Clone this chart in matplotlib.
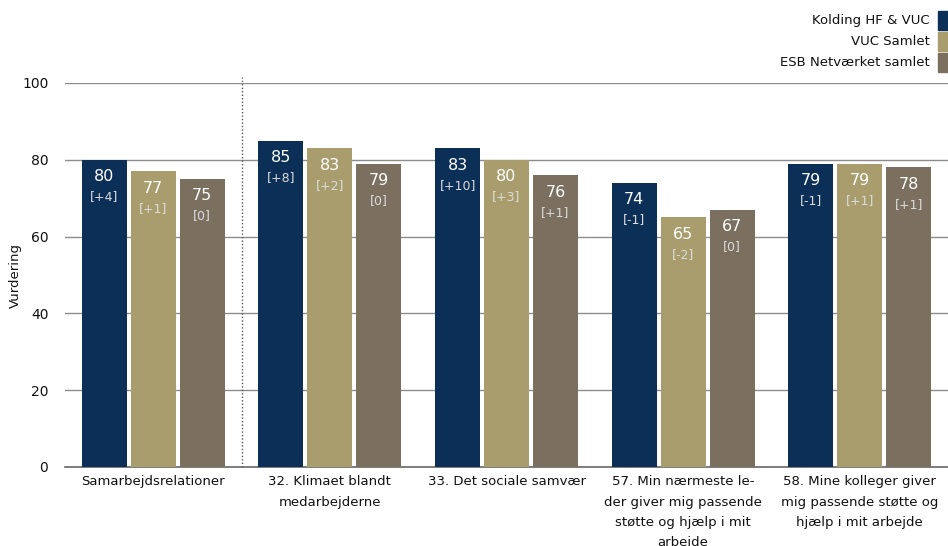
import matplotlib
matplotlib.use("Agg")
import matplotlib.pyplot as plt
import numpy as np
from matplotlib.patches import Rectangle

plt.rcParams["font.family"] = ["DejaVu Sans"]

categories = [
    "Samarbejdsrelationer",
    "32. Klimaet blandt\nmedarbejderne",
    "33. Det sociale samvær",
    "57. Min nærmeste le-\nder giver mig passende\nstøtte og hjælp i mit\narbejde",
    "58. Mine kolleger giver\nmig passende støtte og\nhjælp i mit arbejde",
]
series = ["Kolding HF & VUC", "VUC Samlet", "ESB Netværket samlet"]
kolding = [80, 85, 83, 74, 79]
vuc = [77, 83, 80, 65, 79]
esb = [75, 79, 76, 67, 78]
kolding_diff = ["[+4]", "[+8]", "[+10]", "[-1]", "[-1]"]
vuc_diff = ["[+1]", "[+2]", "[+3]", "[-2]", "[+1]"]
esb_diff = ["[0]", "[0]", "[+1]", "[0]", "[+1]"]
yticks = [0, 20, 40, 60, 80, 100]

colors = ["#0C2F57", "#A99D6D", "#7B6F5F"]

fig = plt.figure(figsize=(9.48, 5.46), dpi=100)
ax = fig.add_axes([65 / 948, 1 - 467 / 546, 1 - 65 / 948, 384 / 546])

x = np.arange(len(categories))
step = 0.277
width = 0.255
for i, (vals, diffs) in enumerate(zip([kolding, vuc, esb],
                                      [kolding_diff, vuc_diff, esb_diff])):
    pos = x + (i - 1) * step
    ax.bar(pos, vals, width=width, color=colors[i], zorder=3)
    for px, v, d in zip(pos, vals, diffs):
        ax.annotate(str(v), (px, v), xytext=(0, -17), textcoords="offset pixels",
                    ha="center", va="center", color="white", fontsize=11.5,
                    zorder=4)
        ax.annotate(d, (px, v), xytext=(0, -37), textcoords="offset pixels",
                    ha="center", va="center", color="#DCDCDC", fontsize=9,
                    zorder=4)

ax.set_xlim(-0.5, len(categories) - 0.5)
ax.set_ylim(0, 100)
ax.set_yticks(yticks)
for y in yticks[1:]:
    ax.axhline(y, color="#8C8C8C", lw=1, zorder=1)
ax.plot([0.5, 0.5], [0, 101.5], color="#555555", lw=1, ls=(0, (1, 1.5)),
        zorder=2, clip_on=False)

for s in ["top", "right", "left"]:
    ax.spines[s].set_visible(False)
ax.spines["bottom"].set_color("#666666")
ax.spines["bottom"].set_linewidth(1.2)
ax.tick_params(axis="both", length=0, labelsize=10, colors="#111111")
ax.tick_params(axis="y", pad=12)
ax.set_xticks(x)
ax.set_xticklabels(categories, fontsize=9.5, linespacing=1.72, va="top")
ax.tick_params(axis="x", pad=6)
ax.set_ylabel("Vurdering", fontsize=9.5, color="#111111", va="center")
ax.yaxis.set_label_coords(-0.056, 0.5)

# legend: right-aligned labels with colour blocks at the figure edge
for k, (name, c) in enumerate(zip(series, colors)):
    yc = 1 - (20.5 + k * 21) / 546
    fig.text(930 / 948, yc, name, ha="right", va="center", fontsize=9.5,
             color="#111111")
    fig.patches.append(Rectangle((938 / 948, yc - 9.5 / 546), 10 / 948,
                                 19 / 546, transform=fig.transFigure,
                                 color=c, figure=fig))

fig.savefig("out.png", dpi=100)
